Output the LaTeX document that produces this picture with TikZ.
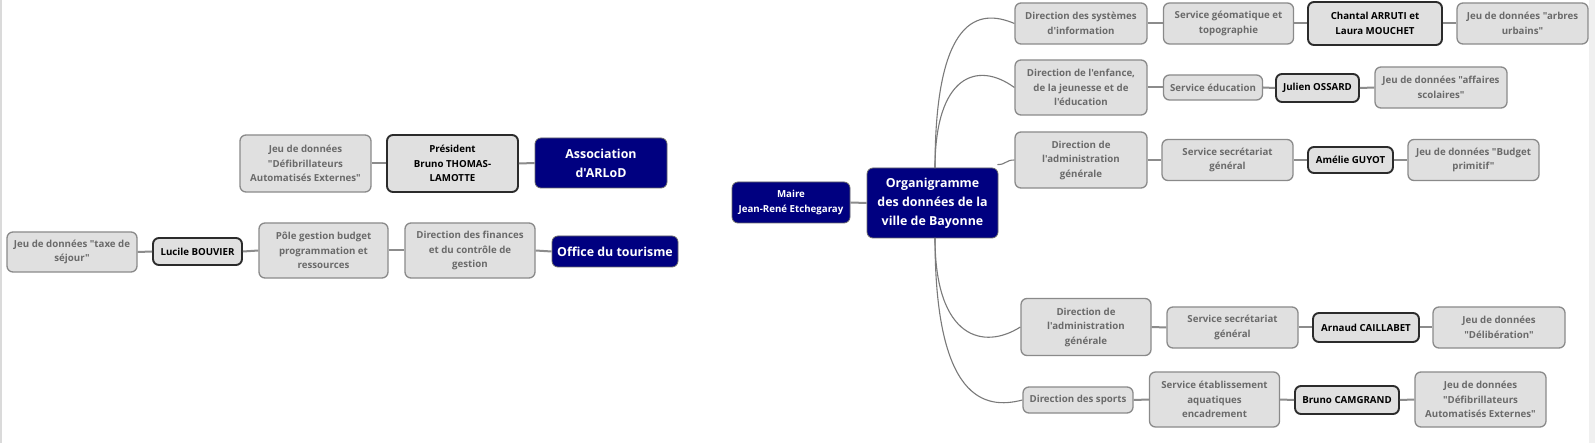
\documentclass[tikz,border=0pt]{standalone}
\usepackage{fontspec}
\newfontfamily\osans{Open Sans}
\definecolor{boxgray}{HTML}{E0E0E0}
\definecolor{bordergray}{HTML}{8A8A8A}
\definecolor{textgray}{HTML}{6A6A6A}
\definecolor{darkborder}{HTML}{2B2B2B}
\definecolor{navyfill}{HTML}{000080}
\definecolor{linegray}{HTML}{8C8C8C}
\definecolor{curvegray}{HTML}{7A7A7A}
\definecolor{edgegray}{HTML}{F0F0F0}
\tikzset{
  gbox/.style={rounded corners=6pt, fill=boxgray, draw=bordergray, line width=1.3pt,
    text=textgray, align=center, inner sep=0pt,
    font=\osans\bfseries\fontsize{9.7}{14.5}\selectfont},
  pbox/.style={gbox, draw=darkborder, line width=1.9pt, text=black},
  nbox/.style={rounded corners=6pt, fill=navyfill, draw=darkborder!70, line width=0.8pt,
    text=white, align=center, inner sep=0pt,
    font=\osans\bfseries\fontsize{12.4}{19}\selectfont},
  mbox/.style={nbox, font=\osans\bfseries\fontsize{9.7}{14.5}\selectfont},
  conn/.style={draw=linegray, line width=2pt},
  curve/.style={draw=curvegray, line width=1.1pt},
}
\begin{document}
\begin{tikzpicture}[x=1pt,y=-1pt]
\useasboundingbox (0,0) rectangle (1595,443);
\fill[white] (0,0) rectangle (1595,443);
\fill[edgegray] (1589,0) rectangle (1595,443);
\fill[edgegray!80!gray] (0,0) rectangle (1.5,443);

% ---- left part ----
\node[gbox, minimum width=131pt, minimum height=57pt] (jdefL) at (305.5,163.5) {Jeu de données\\"Défibrillateurs\\Automatisés Externes"};
\node[pbox, minimum width=131pt, minimum height=57pt] (pres) at (452.5,163.5) {Président\\Bruno THOMAS-\\LAMOTTE};
\node[nbox, minimum width=132pt, minimum height=50pt] (assoc) at (601,163) {Association\\d'ARLoD};

\node[gbox, minimum width=130pt, minimum height=40pt] (taxe) at (72,252) {Jeu de données "taxe de\\séjour"};
\node[pbox, minimum width=89pt, minimum height=27pt] (lucile) at (197.5,251.5) {Lucile BOUVIER};
\node[gbox, minimum width=129pt, minimum height=55pt] (pole) at (323.5,250.5) {Pôle gestion budget\\programmation et\\ressources};
\node[gbox, minimum width=130pt, minimum height=55pt] (dfin) at (470,250.5) {Direction des finances\\et du contrôle de\\gestion};
\node[nbox, minimum width=126pt, minimum height=31pt] (office) at (615,251.5) {Office du tourisme};

% ---- centre ----
\node[mbox, minimum width=118pt, minimum height=41pt] (maire) at (791,202.5) {Maire\\Jean-René Etchegaray};
\node[nbox, minimum width=131pt, minimum height=70pt] (centre) at (932.5,203) {Organigramme\\des données de la\\ville de Bayonne};

% ---- right part, row 1 ----
\node[gbox, minimum width=132pt, minimum height=41pt] (dsi) at (1081,23.5) {Direction des systèmes\\d'information};
\node[gbox, minimum width=130pt, minimum height=41pt] (sgeo) at (1228.5,23.5) {Service géomatique et\\topographie};
\node[pbox, minimum width=134pt, minimum height=43pt] (chantal) at (1375,23.5) {Chantal ARRUTI et\\Laura MOUCHET};
\node[gbox, minimum width=131pt, minimum height=41pt] (arbres) at (1522.5,23.5) {Jeu de données "arbres\\urbains"};

% row 2
\node[gbox, minimum width=132pt, minimum height=55pt] (denf) at (1081,87.5) {Direction de l'enfance,\\de la jeunesse et de\\l'éducation};
\node[gbox, minimum width=99pt, minimum height=25pt] (seduc) at (1213,87.5) {Service éducation};
\node[pbox, minimum width=83pt, minimum height=28pt] (julien) at (1317.5,88) {Julien OSSARD};
\node[gbox, minimum width=132pt, minimum height=41pt] (affaires) at (1441,87.5) {Jeu de données "affaires\\scolaires"};

% row 3
\node[gbox, minimum width=132pt, minimum height=56pt] (dadmA) at (1081,160) {Direction de\\l'administration\\générale};
\node[gbox, minimum width=131pt, minimum height=41pt] (ssecA) at (1227.5,160) {Service secrétariat\\général};
\node[pbox, minimum width=85pt, minimum height=26pt] (amelie) at (1350.5,160) {Amélie GUYOT};
\node[gbox, minimum width=131pt, minimum height=41pt] (budget) at (1473.5,160) {Jeu de données "Budget\\primitif"};

% row 4
\node[gbox, minimum width=130pt, minimum height=57pt] (dadmB) at (1086,327) {Direction de\\l'administration\\générale};
\node[gbox, minimum width=131pt, minimum height=41pt] (ssecB) at (1232.5,327.5) {Service secrétariat\\général};
\node[pbox, minimum width=106pt, minimum height=29pt] (arnaud) at (1366,327.5) {Arnaud CAILLABET};
\node[gbox, minimum width=132pt, minimum height=41pt] (delib) at (1499,327.5) {Jeu de données\\"Délibération"};

% row 5
\node[gbox, minimum width=110pt, minimum height=26pt] (dsport) at (1078,400) {Direction des sports};
\node[gbox, minimum width=130pt, minimum height=55pt] (saqua) at (1214.5,399.5) {Service établissement\\aquatiques\\encadrement};
\node[pbox, minimum width=104pt, minimum height=28pt] (bruno) at (1347,400) {Bruno CAMGRAND};
\node[gbox, minimum width=131pt, minimum height=55pt] (jdefR) at (1480.5,399.5) {Jeu de données\\"Défibrillateurs\\Automatisés Externes"};

% ---- straight connectors ----
\draw[conn] (jdefL.east) -- (pres.west);
\draw[conn] (pres.east) -- (assoc.west);
\draw[conn] (taxe.east) -- (lucile.west);
\draw[conn] (lucile.east) -- (pole.west);
\draw[conn] (pole.east) -- (dfin.west);
\draw[conn] (dfin.east) -- (office.west);
\draw[conn] (maire.east) -- (centre.west);
\draw[conn] (dsi.east) -- (sgeo.west);
\draw[conn] (sgeo.east) -- (chantal.west);
\draw[conn] (chantal.east) -- (arbres.west);
\draw[conn] (denf.east) -- (seduc.west);
\draw[conn] (seduc.east) -- (julien.west);
\draw[conn] (julien.east) -- (affaires.west);
\draw[conn] (dadmA.east) -- (ssecA.west);
\draw[conn] (ssecA.east) -- (amelie.west);
\draw[conn] (amelie.east) -- (budget.west);
\draw[conn] (dadmB.east) -- (ssecB.west);
\draw[conn] (ssecB.east) -- (arnaud.west);
\draw[conn] (arnaud.east) -- (delib.west);
\draw[conn] (dsport.east) -- (saqua.west);
\draw[conn] (saqua.east) -- (bruno.west);
\draw[conn] (bruno.east) -- (jdefR.west);

% ---- curved branches ----
\coordinate (ctop) at ([xshift=2.5pt,yshift=-0.5pt]centre.north);
\coordinate (cbot) at ([xshift=2.5pt,yshift=0.5pt]centre.south);
\coordinate (cne) at ([xshift=-1pt,yshift=3pt]centre.north east);
\draw[curve] (ctop) .. controls +(0,-153) and +(-35,-15) .. (dsi.west);
\draw[curve] (ctop) .. controls +(0,-93) and +(-37,-27) .. (denf.west);
\draw[curve] (cne) .. controls +(9,0) and +(-9,0) .. (dadmA.west);
\draw[curve] (cbot) .. controls +(0,102) and +(-36,23) .. (dadmB.west);
\draw[curve] (cbot) .. controls +(0,162) and +(-38,10) .. (dsport.west);
\end{tikzpicture}
\end{document}
